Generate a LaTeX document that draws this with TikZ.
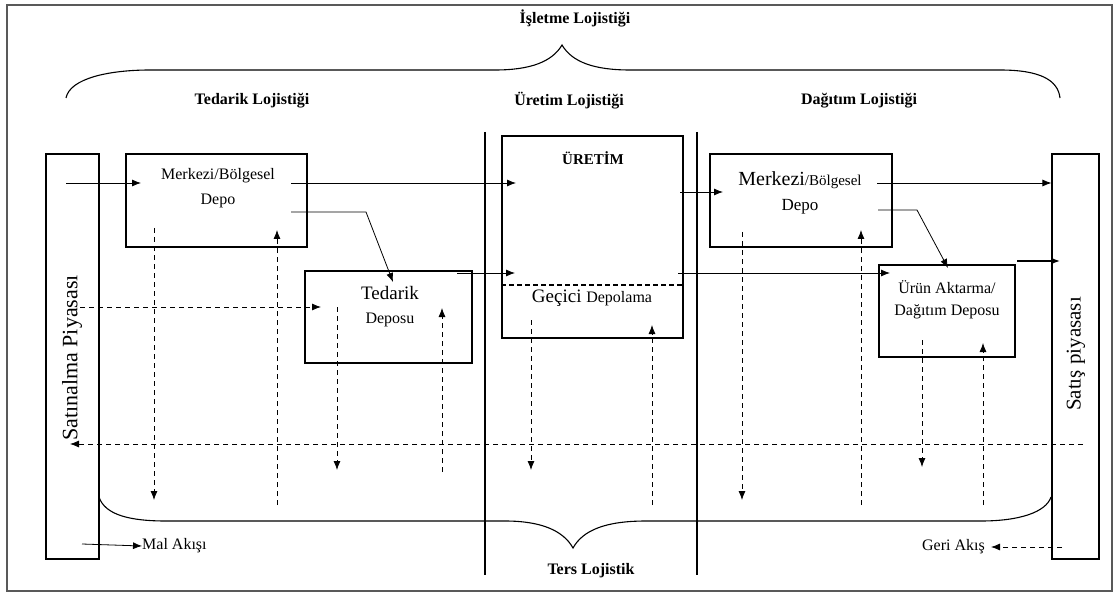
\documentclass[tikz,border=0pt]{standalone}
\usepackage{fontspec}
\setmainfont{Liberation Serif}
\usetikzlibrary{arrows.meta}
\newcommand{\fsz}[1]{\fontsize{#1}{#1}\selectfont}
\tikzset{
  box/.style={draw,line width=1.1pt,inner sep=0pt},
  sep/.style={line width=1.1pt},
  flow/.style={line width=0.8pt,-{Latex[length=9pt,width=7pt]}},
  back/.style={line width=0.8pt,dash pattern=on 5pt off 4pt,-{Latex[length=9pt,width=7pt]}},
  brc/.style={line width=1.1pt},
  hd/.style={font=\fsz{16}\bfseries},
  lbl/.style={inner sep=0pt,font=\fsz{16}}
}

\begin{document}
\begin{tikzpicture}[x=1pt,y=-1pt]
\useasboundingbox (0,0) rectangle (1119,596);
\draw[line width=1.6pt,black!65] (7,5) rectangle (1112,591);
% headings and braces
\node[hd] (isl) at (575,18) {İşletme Lojistiği};
\draw[brc] (66,98) .. controls (70,78) and (110,70) .. (150,70) -- (495,70) .. controls (530,70) and (552,62) .. (562,45) .. controls (572,62) and (594,70) .. (630,70) -- (1000,70) .. controls (1040,70) and (1058,80) .. (1060,98);
\node[hd] (tedH) at (252,101) {Tedarik Lojistiği};
\node[hd] (uretH) at (569,101) {Üretim Lojistiği};
\node[hd] (dagH) at (859,101) {Dağıtım Lojistiği};
\draw[sep] (485,132) -- (485,575); \draw[sep] (697,132) -- (697,575);
% markets
\node[box,minimum width=53pt,minimum height=405pt] (satin) at (72.5,356.5) {};
\node[rotate=90,font=\fsz{22}] (satinT) at (72,358) {Satınalma Piyasası};
\node[box,minimum width=47pt,minimum height=405pt] (satis) at (1075.5,356.5) {};
\node[rotate=90,font=\fsz{21}] (satisT) at (1076,354) {Satış piyasası};
% depots
\node[box,minimum width=181pt,minimum height=93pt] (merkL) at (216.5,200.5) {};
\node[lbl] (mLa) at (218,176) {Merkezi/Bölgesel};
\node[lbl] (mLb) at (218,201) {Depo};
\node[box,minimum width=167pt,minimum height=92pt] (tedarik) at (388.5,317) {};
\node[lbl,font=\fsz{19}] (tda) at (390,293) {Tedarik};
\node[lbl] (tdb) at (390,320) {Deposu};
\node[box,minimum width=181pt,minimum height=202pt] (uretim) at (592.5,237) {};
\node[lbl,font=\fsz{15}\bfseries] (urA) at (593,158) {ÜRETİM};
\node[lbl] (urB) at (592,298) {\fsz{19}Geçici \fsz{16}Depolama};
\coordinate (gd) at (0,285);
\draw[line width=1.1pt,dash pattern=on 5pt off 3pt] (uretim.west |- gd) -- (uretim.east |- gd);
\node[box,minimum width=182pt,minimum height=93pt] (merkR) at (801,200.5) {};
\node[lbl] (mRa) at (800,180) {\fsz{20}Merkezi\fsz{15}/Bölgesel};
\node[lbl,font=\fsz{17}] (mRb) at (800,207) {Depo};
\node[box,minimum width=136pt,minimum height=92pt] (urun) at (947,311) {};
\node[lbl] (ura) at (947,287) {Ürün Aktarma/};
\node[lbl] (urb) at (947,312) {Dağıtım Deposu};
% goods flow
\coordinate (a1) at (66,183);  \coordinate (a1e) at (141,183);
\coordinate (a2) at (291,183); \coordinate (a2e) at (516,183);
\coordinate (a3) at (291,212); \coordinate (a3m) at (366,212); \coordinate (a3e) at (393,282);
\coordinate (a4) at (457,273); \coordinate (a4e) at (515,273);
\coordinate (a5) at (680,192); \coordinate (a5e) at (723,192);
\coordinate (a6) at (678,273); \coordinate (a6e) at (890,273);
\coordinate (a7) at (877,183);
\coordinate (a8) at (878,210); \coordinate (a8m) at (917,210); \coordinate (a8e) at (948,268);
\coordinate (a9) at (1017,261); \coordinate (a9e) at (1060,261);
\draw[flow] (a1) -- (a1e); \draw[flow] (a2) -- (a2e);
\draw[flow] (a3) -- (a3m) -- (a3e);
\draw[flow] (a4) -- (a4e); \draw[flow] (a5) -- (a5e); \draw[flow] (a6) -- (a6e);
\draw[flow] (a7) -- (satis.west |- a7);
\draw[flow] (a8) -- (a8m) -- (a8e);
\draw[flow,line width=1.4pt] (a9) -- (a9e);
% return flow
\coordinate (b1) at (80,307);   \coordinate (b1e) at (321,307);
\coordinate (b2) at (1083,444); \coordinate (b2e) at (70,444);
\draw[back] (b1) -- (b1e); \draw[back] (b2) -- (b2e);
\foreach \x/\ya/\yb [count=\i] in {154/228/500, 277/505/230, 337/307/470, 442/472/308, 531/320/470,
    652/505/325, 742/232/500, 861/505/230, 922/340/467, 983/505/343}
  {\coordinate (v\i) at (\x,\ya); \coordinate (v\i e) at (\x,\yb); \draw[back] (v\i) -- (v\i e);}
\draw[brc] (99,497) .. controls (105,515) and (130,521) .. (166,521) -- (505,521) .. controls (540,521) and (563,530) .. (573,548) .. controls (583,530) and (606,521) .. (646,521) -- (981,521) .. controls (1020,521) and (1046,512) .. (1051,497);
\node[hd] (ters) at (591,571) {Ters Lojistik};
% legend
\node[lbl,anchor=west] (malT) at (142,546) {Mal Akışı};
\coordinate (m0) at (82,544);
\draw[flow] (m0) -- (malT.west);
\node[lbl,anchor=east] (geriT) at (985,547) {Geri Akış};
\coordinate (g0) at (1062,547);
\draw[back,shorten >=6pt] (g0) -- (geriT.east);
\end{tikzpicture}
\end{document}
